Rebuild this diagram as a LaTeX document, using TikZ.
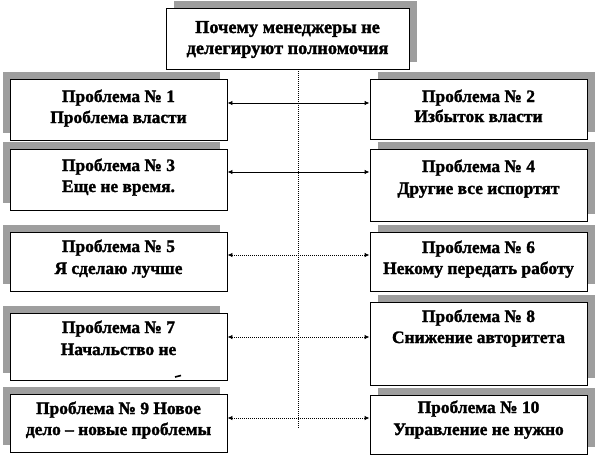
\documentclass[tikz,border=0pt]{standalone}
\usepackage{fontspec}
\setmainfont{Liberation Serif}[BoldFeatures={FakeBold=1.6}]
\usetikzlibrary{arrows.meta,calc}
\definecolor{shadowgray}{gray}{0.62}
\tikzset{
  box/.style={draw=black, line width=0.9pt, fill=white, rectangle, inner sep=0pt},
  shd/.style={fill=shadowgray},
  txt/.style={anchor=base, inner sep=0pt, font=\fontsize{17.4}{20}\selectfont\bfseries},
  ttxt/.style={anchor=base, inner sep=0pt, font=\fontsize{18.3}{21}\selectfont\bfseries},
  link/.style={line width=0.9pt, {Latex[length=5pt,width=4.5pt]}-{Latex[length=5pt,width=4.5pt]}},
  dlink/.style={link, dash pattern=on 1pt off 1pt},
  spine/.style={line width=1pt, dash pattern=on 1pt off 1pt}
}
\newcommand{\pbox}[6]{% name, x1, y1, x2, y2, shadow dx
  \fill[shd] (#2+#6,#3-7) rectangle (#4+#6,#5-7);
  \node[box, minimum width=#4pt-#2pt, minimum height=#5pt-#3pt] (#1) at ({(#2+#4)/2},{(#3+#5)/2}) {};
}
\begin{document}
\begin{tikzpicture}[x=1pt,y=-1pt]
\useasboundingbox (0,0) rectangle (596,458);
% boxes
\pbox{top}{166}{8}{409}{69}{8}
\pbox{b1}{10}{79}{227}{140}{-7}
\pbox{b2}{370}{79}{587}{139}{8}
\pbox{b3}{10}{149}{227}{210}{-7}
\pbox{b4}{370}{149}{587}{221}{8}
\pbox{b5}{10}{232}{227}{291}{-7}
\pbox{b6}{370}{232}{587}{291}{8}
\pbox{b7}{10}{313}{227}{380}{-7}
\pbox{b8}{370}{302}{587}{385}{8}
\pbox{b9}{10}{394}{227}{452}{-7}
\pbox{b10}{370}{395}{587}{454}{8}
% texts
\node[ttxt] (tta) at (287.5,33) {Почему менеджеры не};
\node[ttxt] (ttb) at (287.5,54) {делегируют полномочия};
\node[txt] (t1a) at (118.5,102) {Проблема № 1};
\node[txt] (t1b) at (118.5,123) {Проблема власти};
\node[txt] (t2a) at (478.5,102) {Проблема № 2};
\node[txt] (t2b) at (478.5,122) {Избыток власти};
\node[txt] (t3a) at (118.5,171) {Проблема № 3};
\node[txt] (t3b) at (118.5,192) {Еще не время.};
\node[txt] (t4a) at (478.5,172) {Проблема № 4};
\node[txt] (t4b) at (478.5,194) {Другие все испортят};
\node[txt] (t5a) at (118.5,252) {Проблема № 5};
\node[txt] (t5b) at (118.5,274) {Я сделаю лучше};
\node[txt] (t6a) at (478.5,253) {Проблема № 6};
\node[txt] (t6b) at (478.5,274) {Некому передать работу};
\node[txt] (t7a) at (118.5,333) {Проблема № 7};
\node[txt] (t7b) at (118.5,355) {Начальство не};
\draw[line width=1.6pt] (175,377) -- (181,375.5);
\node[txt] (t8a) at (478.5,322) {Проблема № 8};
\node[txt] (t8b) at (478.5,343) {Снижение авторитета};
\node[txt] (t9a) at (118.5,414) {Проблема № 9 Новое};
\node[txt] (t9b) at (118.5,435) {дело – новые проблемы};
\node[txt] (t10a) at (478.5,413) {Проблема № 10};
\node[txt] (t10b) at (478.5,435) {Управление не нужно};
% spine
\coordinate (spend) at (298,428);
\draw[spine] (top.south -| spend) -- (spend);
% connectors
\draw[link] (b1.east |- 0,103) -- (b2.west |- 0,103);
\draw[link] (b3.east |- 0,172) -- (b4.west |- 0,172);
\draw[dlink] (b5.east |- 0,255) -- (b6.west |- 0,255);
\draw[dlink] (b7.east |- 0,337) -- (b8.west |- 0,337);
\draw[dlink] (b9.east |- 0,418) -- (b10.west |- 0,418);
\end{tikzpicture}
\end{document}
